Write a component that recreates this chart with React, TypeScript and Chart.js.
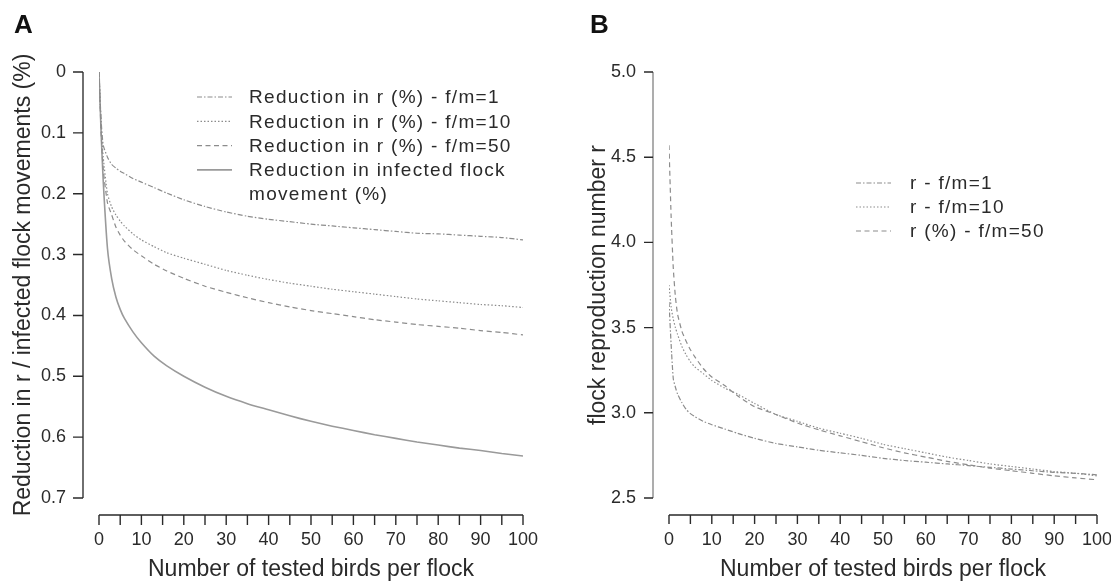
import React, { useEffect, useRef } from 'react';
import { Chart, registerables } from 'chart.js';

Chart.register(...registerables);

// Panel A: reduction in r / infected flock movements vs number of tested birds
const testedBirdsA = [0, 0.5, 1, 2, 3, 4, 5, 6, 8, 10, 13, 16, 20, 25, 30, 35, 40, 45, 50, 55, 60, 65, 70, 75, 80, 85, 90, 95, 100];
const reductionFm1 = [0, 0.08, 0.12, 0.14, 0.152, 0.158, 0.163, 0.167, 0.175, 0.181, 0.19, 0.199, 0.21, 0.221, 0.23, 0.237, 0.242, 0.246, 0.25, 0.253, 0.256, 0.259, 0.262, 0.265, 0.266, 0.268, 0.27, 0.272, 0.276];
const reductionFm10 = [0, 0.09, 0.14, 0.2, 0.222, 0.235, 0.245, 0.253, 0.266, 0.276, 0.287, 0.297, 0.306, 0.316, 0.326, 0.334, 0.341, 0.347, 0.352, 0.357, 0.361, 0.365, 0.369, 0.373, 0.376, 0.379, 0.382, 0.384, 0.387];
const reductionFm50 = [0, 0.1, 0.16, 0.215, 0.235, 0.255, 0.268, 0.278, 0.292, 0.302, 0.316, 0.327, 0.339, 0.352, 0.362, 0.371, 0.379, 0.386, 0.392, 0.397, 0.402, 0.407, 0.411, 0.415, 0.418, 0.421, 0.425, 0.428, 0.432];
const reductionMovement = [0, 0.1, 0.18, 0.29, 0.34, 0.37, 0.39, 0.405, 0.427, 0.445, 0.467, 0.483, 0.5, 0.518, 0.533, 0.545, 0.555, 0.565, 0.574, 0.582, 0.589, 0.596, 0.602, 0.608, 0.613, 0.618, 0.622, 0.627, 0.631];

// Panel B: flock reproduction number r vs number of tested birds
const testedBirdsB = [0, 0.5, 1, 1.5, 2, 3, 4, 5, 6, 8, 10, 13, 16, 20, 25, 30, 35, 40, 45, 50, 55, 60, 65, 70, 75, 80, 85, 90, 95, 100];
const rFm1 = [3.65, 3.4, 3.2, 3.15, 3.11, 3.06, 3.02, 2.995, 2.978, 2.95, 2.93, 2.905, 2.88, 2.85, 2.82, 2.8, 2.78, 2.765, 2.75, 2.733, 2.72, 2.71, 2.7, 2.69, 2.68, 2.67, 2.66, 2.65, 2.645, 2.636];
const rFm10 = [3.75, 3.62, 3.55, 3.5, 3.46, 3.39, 3.34, 3.3, 3.27, 3.23, 3.19, 3.145, 3.11, 3.055, 2.99, 2.95, 2.91, 2.88, 2.85, 2.815, 2.79, 2.765, 2.74, 2.72, 2.7, 2.685, 2.67, 2.655, 2.645, 2.63];
const rFm50 = [4.57, 4.15, 3.85, 3.68, 3.58, 3.48, 3.42, 3.37, 3.33, 3.26, 3.21, 3.16, 3.1, 3.036, 2.99, 2.94, 2.9, 2.865, 2.83, 2.795, 2.765, 2.74, 2.715, 2.695, 2.675, 2.66, 2.645, 2.63, 2.618, 2.607];

const legendLabelsA = [
  'Reduction in r (%) - f/m=1',
  'Reduction in r (%) - f/m=10',
  'Reduction in r (%) - f/m=50',
  'Reduction in infected flock\nmovement (%)',
];
const legendLabelsB = ['r - f/m=1', 'r - f/m=10', 'r (%) - f/m=50'];

const xTitle = 'Number of tested birds per flock';
const yTitleA = 'Reduction in r / infected flock movements (%)';
const yTitleB = 'flock reproduction number r';

const FONT = '"Liberation Sans", Arial, Helvetica, sans-serif';
const INK = '#2a2a2a';
const CURVE = '#8c8c8c';

const DASH_DOT = [5, 2, 1.5, 2];
const DOTTED = [1.5, 2];
const DASHED = [5, 3.5];

const toPoints = (xs: number[], ys: number[]) => xs.map((x, i) => ({ x, y: ys[i] }));

interface FrameCfg {
  letter: string;
  letterX: number;
  letterY: number;
  yAxisX: number;
  yAxisColor: string;
  xAxisY: number;
  tickLen: number;
  legendSampleX: number;
  legendSampleW: number;
  legendTextX: number;
  legendTopY: number;
  legendRowH: number;
  legendFont: string;
}

// Draws R-style detached axes, the panel letter and the legend.
function makeFrame(cfg: FrameCfg) {
  return {
    id: 'frame' + cfg.letter,
    afterDraw(chart: any) {
      const { ctx } = chart;
      const xs = chart.scales.x;
      const ys = chart.scales.y;
      ctx.save();

      // y axis line
      ctx.lineWidth = 1.4;
      ctx.strokeStyle = cfg.yAxisColor;
      ctx.beginPath();
      ctx.moveTo(cfg.yAxisX, ys.getPixelForValue(ys.min));
      ctx.lineTo(cfg.yAxisX, ys.getPixelForValue(ys.max));
      ctx.stroke();

      // y ticks
      ctx.strokeStyle = INK;
      ctx.beginPath();
      ys.ticks.forEach((t: any) => {
        const p = ys.getPixelForValue(t.value);
        ctx.moveTo(cfg.yAxisX - cfg.tickLen, p);
        ctx.lineTo(cfg.yAxisX, p);
      });
      ctx.stroke();

      // x axis line and ticks
      ctx.beginPath();
      ctx.moveTo(xs.getPixelForValue(xs.min), cfg.xAxisY);
      ctx.lineTo(xs.getPixelForValue(xs.max), cfg.xAxisY);
      xs.ticks.forEach((t: any) => {
        const p = xs.getPixelForValue(t.value);
        ctx.moveTo(p, cfg.xAxisY);
        ctx.lineTo(p, cfg.xAxisY + cfg.tickLen);
      });
      ctx.stroke();

      // panel letter
      ctx.fillStyle = '#111';
      ctx.font = 'bold 26px ' + FONT;
      ctx.textBaseline = 'alphabetic';
      ctx.textAlign = 'left';
      ctx.fillText(cfg.letter, cfg.letterX, cfg.letterY);

      // legend
      ctx.font = cfg.legendFont;
      ctx.textBaseline = 'middle';
      try { (ctx as any).letterSpacing = '1.3px'; } catch (e) { /* unsupported */ }
      let row = 0;
      chart.data.datasets.forEach((ds: any) => {
        const lines = String(ds.label).split('\n');
        const yy = cfg.legendTopY + row * cfg.legendRowH;
        ctx.strokeStyle = ds.borderColor;
        ctx.lineWidth = ds.borderWidth;
        ctx.setLineDash(ds.borderDash || []);
        ctx.beginPath();
        ctx.moveTo(cfg.legendSampleX, yy);
        ctx.lineTo(cfg.legendSampleX + cfg.legendSampleW, yy);
        ctx.stroke();
        ctx.setLineDash([]);
        ctx.fillStyle = INK;
        lines.forEach((ln, i) => {
          ctx.fillText(ln, cfg.legendTextX, yy + 1 + i * cfg.legendRowH);
        });
        row += lines.length;
      });
      try { (ctx as any).letterSpacing = '0px'; } catch (e) { /* unsupported */ }
      ctx.restore();
    },
  };
}

function lineDataset(label: string, xs: number[], ys: number[], dash: number[], width: number, color: string) {
  return {
    label,
    data: toPoints(xs, ys),
    borderColor: color,
    borderWidth: width,
    borderDash: dash,
    pointRadius: 0,
    tension: 0.2,
    fill: false,
  };
}

function xScale() {
  return {
    type: 'linear' as const,
    min: 0,
    max: 100,
    afterFit: (s: any) => {
      s.height = 85;
      s.paddingLeft = 0;
      s.paddingRight = 0;
    },
    grid: { display: false, drawTicks: false },
    border: { display: false },
    ticks: {
      stepSize: 5,
      autoSkip: false,
      maxRotation: 0,
      padding: 31,
      color: INK,
      font: { family: FONT, size: 18 },
      callback: (v: any) => (Number(v) % 10 === 0 ? String(v) : ''),
    },
    title: {
      display: true,
      text: xTitle,
      color: INK,
      font: { family: FONT, size: 23 },
      padding: { top: 0, bottom: 0 },
    },
  };
}

function ChartPanel({ config, width, left }: { config: any; width: number; left: number }) {
  const ref = useRef<HTMLCanvasElement>(null);
  useEffect(() => {
    if (!ref.current) return;
    const chart = new Chart(ref.current, config);
    return () => chart.destroy();
  }, []);
  return (
    <canvas
      ref={ref}
      width={width}
      height={583}
      style={{ position: 'absolute', left, top: 0, width, height: 583 }}
    />
  );
}

const configA = {
  type: 'line',
  data: {
    datasets: [
      lineDataset(legendLabelsA[0], testedBirdsA, reductionFm1, DASH_DOT, 1.2, CURVE),
      lineDataset(legendLabelsA[1], testedBirdsA, reductionFm10, DOTTED, 1.2, CURVE),
      lineDataset(legendLabelsA[2], testedBirdsA, reductionFm50, DASHED, 1.2, CURVE),
      lineDataset(legendLabelsA[3], testedBirdsA, reductionMovement, [], 1.6, '#9a9a9a'),
    ],
  },
  options: {
    responsive: false,
    animation: false,
    layout: { padding: { top: 72, right: 32, bottom: 0, left: 0 } },
    plugins: { legend: { display: false }, tooltip: { enabled: false } },
    scales: {
      x: xScale(),
      y: {
        type: 'linear',
        reverse: true,
        min: 0,
        max: 0.7,
        afterFit: (s: any) => { s.width = 99; },
        grid: { display: false, drawTicks: false },
        border: { display: false },
        ticks: {
          stepSize: 0.1,
          padding: 33,
          color: INK,
          font: { family: FONT, size: 18 },
          callback: (v: any) => (Number(v) === 0 ? '0' : Number(v).toFixed(1)),
        },
        title: {
          display: true,
          text: yTitleA,
          color: INK,
          font: { family: FONT, size: 23 },
          padding: { top: 10, bottom: 0 },
        },
      },
    },
  },
  plugins: [
    makeFrame({
      letter: 'A',
      letterX: 14,
      letterY: 33,
      yAxisX: 83,
      yAxisColor: '#333',
      xAxisY: 515,
      tickLen: 10,
      legendSampleX: 197,
      legendSampleW: 35,
      legendTextX: 249,
      legendTopY: 97,
      legendRowH: 24.3,
      legendFont: '19px ' + FONT,
    }),
  ],
};

const configB = {
  type: 'line',
  data: {
    datasets: [
      lineDataset(legendLabelsB[0], testedBirdsB, rFm1, DASH_DOT, 1.2, CURVE),
      lineDataset(legendLabelsB[1], testedBirdsB, rFm10, DOTTED, 1.2, CURVE),
      lineDataset(legendLabelsB[2], testedBirdsB, rFm50, DASHED, 1.2, CURVE),
    ],
  },
  options: {
    responsive: false,
    animation: false,
    layout: { padding: { top: 72, right: 14, bottom: 0, left: 0 } },
    plugins: { legend: { display: false }, tooltip: { enabled: false } },
    scales: {
      x: xScale(),
      y: {
        type: 'linear',
        min: 2.5,
        max: 5.0,
        afterFit: (s: any) => { s.width = 114; },
        grid: { display: false, drawTicks: false },
        border: { display: false },
        ticks: {
          stepSize: 0.5,
          padding: 33,
          color: INK,
          font: { family: FONT, size: 18 },
          callback: (v: any) => Number(v).toFixed(1),
        },
        title: {
          display: true,
          text: yTitleB,
          color: INK,
          font: { family: FONT, size: 23 },
          padding: { top: 30, bottom: 0 },
        },
      },
    },
  },
  plugins: [
    makeFrame({
      letter: 'B',
      letterX: 35,
      letterY: 33,
      yAxisX: 98,
      yAxisColor: '#8a8a8a',
      xAxisY: 515,
      tickLen: 9,
      legendSampleX: 301,
      legendSampleW: 35,
      legendTextX: 355,
      legendTopY: 183,
      legendRowH: 24,
      legendFont: '19px ' + FONT,
    }),
  ],
};

export default function App() {
  return (
    <div style={{ position: 'fixed', left: 0, top: 0, width: 1111, height: 583, background: '#fff', overflow: 'hidden' }}>
      <ChartPanel config={configA} width={555} left={0} />
      <ChartPanel config={configB} width={556} left={555} />
    </div>
  );
}
